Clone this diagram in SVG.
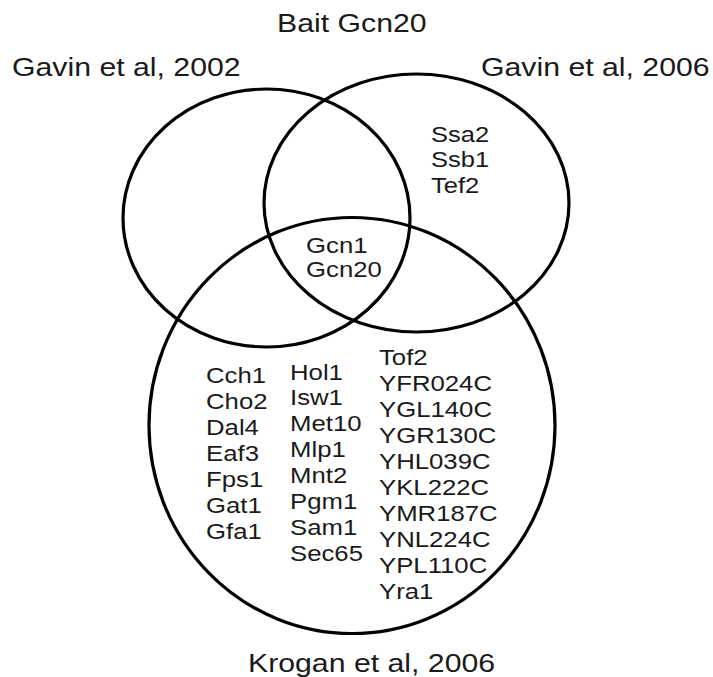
<svg xmlns="http://www.w3.org/2000/svg" width="713" height="677" viewBox="0 0 713 677">
  <style>
    .set { fill: none; stroke: #000; stroke-width: 3.2; }
    .label { font-family: "Liberation Sans", Arial, sans-serif; font-size: 25px; fill: #1a1a1a; }
    .item { font-family: "Liberation Sans", Arial, sans-serif; font-size: 22px; fill: #1a1a1a; }
  </style>
  <rect width="713" height="677" fill="#fff"/>

  <text class="label" transform="translate(277 32) scale(1.21 1)">Bait Gcn20</text>

  <g id="set-gavin2002">
    <ellipse class="set" cx="266.5" cy="218" rx="143.5" ry="129"/>
    <text class="label" transform="translate(12 76) scale(1.21 1)">Gavin et al, 2002</text>
  </g>

  <g id="set-gavin2006">
    <ellipse class="set" cx="416.5" cy="203" rx="152.5" ry="129"/>
    <text class="label" transform="translate(481 76) scale(1.21 1)">Gavin et al, 2006</text>
    <text class="item" transform="translate(431 142) scale(1.16 1)">
      <tspan x="0" dy="0">Ssa2</tspan>
      <tspan x="0" dy="25.5">Ssb1</tspan>
      <tspan x="0" dy="25.5">Tef2</tspan>
    </text>
  </g>

  <g id="set-krogan2006">
    <ellipse class="set" cx="352" cy="425.5" rx="203" ry="208"/>
    <text class="label" transform="translate(248 672) scale(1.21 1)">Krogan et al, 2006</text>
    <text class="item" transform="translate(206 383) scale(1.17 1)">
      <tspan x="0" dy="0">Cch1</tspan>
      <tspan x="0" dy="26">Cho2</tspan>
      <tspan x="0" dy="26">Dal4</tspan>
      <tspan x="0" dy="26">Eaf3</tspan>
      <tspan x="0" dy="26">Fps1</tspan>
      <tspan x="0" dy="26">Gat1</tspan>
      <tspan x="0" dy="26">Gfa1</tspan>
    </text>
    <text class="item" transform="translate(290 379.5) scale(1.17 1)">
      <tspan x="0" dy="0">Hol1</tspan>
      <tspan x="0" dy="26">Isw1</tspan>
      <tspan x="0" dy="26">Met10</tspan>
      <tspan x="0" dy="26">Mlp1</tspan>
      <tspan x="0" dy="26">Mnt2</tspan>
      <tspan x="0" dy="26">Pgm1</tspan>
      <tspan x="0" dy="26">Sam1</tspan>
      <tspan x="0" dy="26">Sec65</tspan>
    </text>
    <text class="item" transform="translate(379 365) scale(1.17 1)">
      <tspan x="0" dy="0">Tof2</tspan>
      <tspan x="0" dy="26">YFR024C</tspan>
      <tspan x="0" dy="26">YGL140C</tspan>
      <tspan x="0" dy="26">YGR130C</tspan>
      <tspan x="0" dy="26">YHL039C</tspan>
      <tspan x="0" dy="26">YKL222C</tspan>
      <tspan x="0" dy="26">YMR187C</tspan>
      <tspan x="0" dy="26">YNL224C</tspan>
      <tspan x="0" dy="26">YPL110C</tspan>
      <tspan x="0" dy="26">Yra1</tspan>
    </text>
  </g>

  <!-- shared by all three sets -->
  <g id="core">
    <text class="item" transform="translate(306 253) scale(1.17 1)">
      <tspan x="0" dy="0">Gcn1</tspan>
      <tspan x="0" dy="24">Gcn20</tspan>
    </text>
  </g>
</svg>
